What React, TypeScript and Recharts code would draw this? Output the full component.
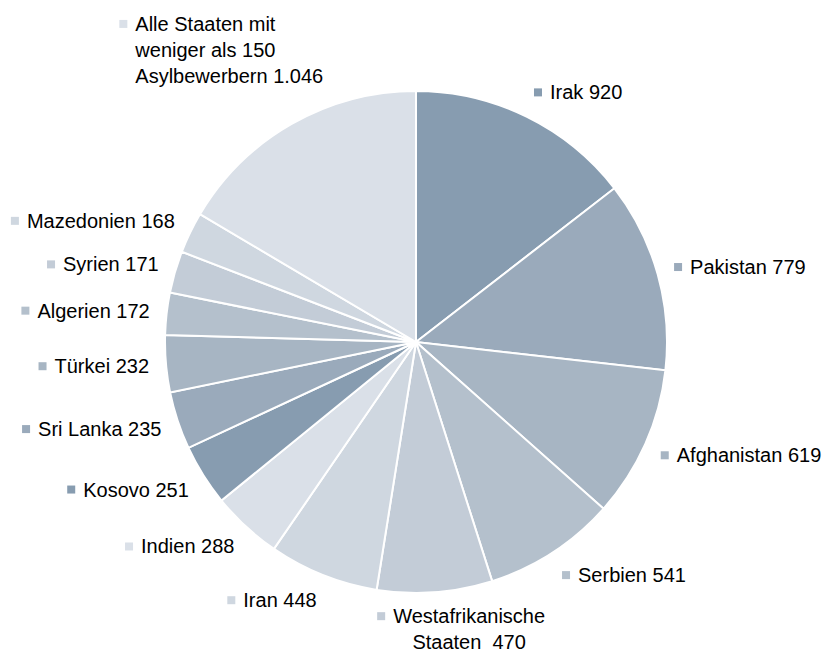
import React from "react";
import { PieChart, Pie, Cell } from "recharts";

// Asylbewerber nach Herkunftsländern
const countries = [
  "Irak",
  "Pakistan",
  "Afghanistan",
  "Serbien",
  "Westafrikanische\nStaaten ",
  "Iran",
  "Indien",
  "Kosovo",
  "Sri Lanka",
  "Türkei",
  "Algerien",
  "Syrien",
  "Mazedonien",
  "Alle Staaten mit\nweniger als 150\nAsylbewerbern",
];
const applicants = [920, 779, 619, 541, 470, 448, 288, 251, 235, 232, 172, 171, 168, 1046];

const palette = ["#879cb0", "#9aaabb", "#a7b5c3", "#b4c0cc", "#c3ccd7", "#cfd7e0", "#dae0e8"];

const data = countries.map((name, i) => ({ name, value: applicants[i] }));

const FONT = "'Liberation Sans', Arial, sans-serif";
const FONT_SIZE = 20;
const LINE_H = 26;
const KEY = 8;
const KEY_GAP = 8;
const RADIAN = Math.PI / 180;

// the multi-line labels were moved by hand in the original
const nudge: Record<string, [number, number]> = {
  "Alle Staaten mit\nweniger als 150\nAsylbewerbern": [40, -28],
  "Westafrikanische\nStaaten ": [6, -3],
};

const fmt = (v: number) => String(v).replace(/\B(?=(\d{3})+(?!\d))/g, ".");

let ctx: CanvasRenderingContext2D | null = null;
const measure = (s: string) => {
  if (!ctx) {
    ctx = document.createElement("canvas").getContext("2d");
    if (ctx) ctx.font = `${FONT_SIZE}px ${FONT}`;
  }
  return ctx ? ctx.measureText(s).width : s.length * FONT_SIZE * 0.55;
};

const renderLabel = (props: any) => {
  const { cx, cy, midAngle, outerRadius, index, name, value } = props;
  const ux = Math.cos(-midAngle * RADIAN);
  const uy = Math.sin(-midAngle * RADIAN);
  const r = outerRadius + 17;
  const px = cx + r * ux;
  const py = cy + r * uy;

  const lines = `${name} ${fmt(value)}`.split("\n");
  const textW = Math.max(...lines.map(measure));
  const w = KEY + KEY_GAP + textW;
  const h = FONT_SIZE + LINE_H * (lines.length - 1);

  const k = Math.max(-1, Math.min(1, ux * 3));
  let centerX = px + (w / 2) * k;
  let centerY = py + (h / 2) * uy;
  const n = nudge[name];
  if (n) {
    centerX += n[0];
    centerY += n[1];
  }
  const left = centerX - w / 2;
  const textLeft = left + KEY + KEY_GAP;
  const firstY = centerY - (LINE_H * (lines.length - 1)) / 2;
  const centered = Math.abs(uy) > 0.9;

  return (
    <g key={`lbl-${index}`}>
      <rect x={left} y={firstY - KEY / 2} width={KEY} height={KEY} fill={palette[index % palette.length]} />
      {lines.map((ln, i) => (
        <text
          key={i}
          x={centered ? textLeft + textW / 2 : textLeft}
          y={firstY + i * LINE_H}
          textAnchor={centered ? "middle" : "start"}
          dominantBaseline="central"
          fontFamily={FONT}
          fontSize={FONT_SIZE}
          fill="#000"
          style={{ whiteSpace: "pre" }}
        >
          {ln}
        </text>
      ))}
    </g>
  );
};

export default function App() {
  return (
    <div style={{ position: "absolute", left: 0, top: 0, width: 825, height: 653, background: "#fff" }}>
      <PieChart width={825} height={653} margin={{ top: 0, right: 0, bottom: 0, left: 0 }}>
        <Pie
          data={data}
          dataKey="value"
          nameKey="name"
          cx={416}
          cy={342}
          outerRadius={251}
          startAngle={90}
          endAngle={-270}
          stroke="#fff"
          strokeWidth={2}
          label={renderLabel}
          labelLine={false}
          isAnimationActive={false}
        >
          {data.map((d, i) => (
            <Cell key={d.name} fill={palette[i % palette.length]} />
          ))}
        </Pie>
      </PieChart>
    </div>
  );
}
